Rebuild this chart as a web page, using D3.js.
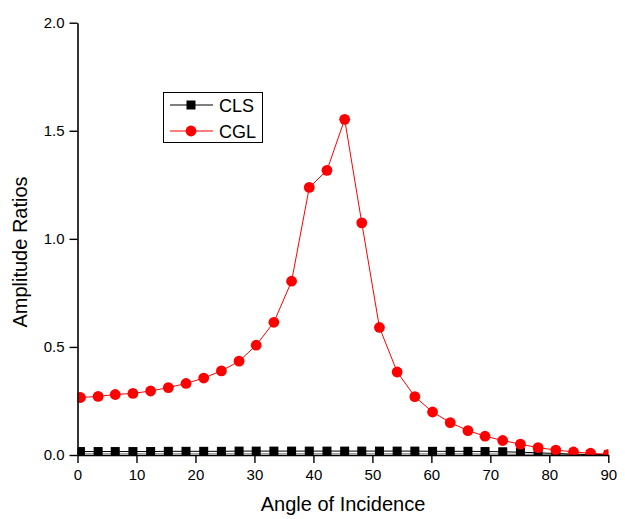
<!DOCTYPE html>
<html><head><meta charset="utf-8">
<script src="https://cdn.jsdelivr.net/npm/d3@7"></script>
<style>body{margin:0;background:#fff}svg{display:block}text{font-family:"Liberation Sans",Arial,sans-serif}</style>
</head><body><svg id="c" width="625" height="519"></svg>
<script>
const angles = [0.5,3.5,6.4,9.4,12.4,15.4,18.4,21.4,24.4,27.4,30.3,33.3,36.3,39.3,42.3,45.3,48.2,51.2,54.2,57.2,60.2,63.2,66.2,69.1,72.1,75.1,78.1,81.1,84.1,87.0,90.0];
const cgl = [0.266,0.271,0.280,0.285,0.296,0.312,0.331,0.356,0.389,0.434,0.508,0.614,0.804,1.238,1.317,1.553,1.074,0.590,0.384,0.270,0.199,0.150,0.113,0.087,0.067,0.050,0.034,0.023,0.014,0.008,0.003];
const cls = [0.016,0.016,0.016,0.016,0.016,0.017,0.017,0.017,0.017,0.018,0.018,0.018,0.018,0.018,0.018,0.018,0.018,0.018,0.018,0.018,0.017,0.017,0.017,0.016,0.015,0.013,0.010,0.007,0.004,0.002,0.001];
const base = [0.006,0.006,0.006,0.006,0.006,0.006,0.006,0.006,0.006,0.006,0.006,0.006,0.006,0.006,0.006,0.006,0.006,0.006,0.006,0.006,0.006,0.006,0.006,0.005,0.005,0.004,0.004,0.003,0.003,0.002,0.002];
const xTicks = [0,10,20,30,40,50,60,70,80,90];
const yTicks = [0,0.5,1.0,1.5,2.0];
const seriesNames = ["CLS","CGL"];

const svg = d3.select("#c");
const x = d3.scaleLinear().domain([0,90]).range([77.5,608.3]);
const y = d3.scaleLinear().domain([0,2]).range([455,22.7]);

svg.append("defs").append("clipPath").attr("id","clip")
  .append("rect").attr("x",x(0)).attr("y",y(2)-10).attr("width",x(90)-x(0)).attr("height",y(0)-y(2)+10);

const plot = svg.append("g").attr("clip-path","url(#clip)");
const line = d3.line().x((d,i)=>x(angles[i])).y(d=>y(d));

plot.append("path").datum(base).attr("d",line).attr("fill","none").attr("stroke","#888").attr("stroke-width",1);
plot.append("path").datum(cls).attr("d",line).attr("fill","none").attr("stroke","#000").attr("stroke-width",1);
plot.selectAll(".sq").data(cls).enter().append("rect")
  .attr("x",(d,i)=>x(angles[i])-4.5).attr("y",d=>y(d)-4.5).attr("width",9).attr("height",9).attr("fill","#000");
plot.append("path").datum(cgl).attr("d",line).attr("fill","none").attr("stroke","#ff0000").attr("stroke-width",1);
plot.selectAll(".ci").data(cgl).enter().append("circle")
  .attr("cx",(d,i)=>x(angles[i])).attr("cy",d=>y(d)).attr("r",5.4).attr("fill","#ff0000");

const xa = svg.append("g").attr("transform",`translate(0,${y(0)})`)
  .call(d3.axisBottom(x).tickValues(xTicks).tickSize(8).tickSizeOuter(0).tickFormat(d3.format("d")));
const ya = svg.append("g").attr("transform",`translate(${x(0)},0)`)
  .call(d3.axisLeft(y).tickValues(yTicks).tickSize(8).tickSizeOuter(0).tickFormat(d3.format(".1f")));
[xa,ya].forEach(a=>{
  a.select(".domain").attr("stroke","#000").attr("stroke-width",1.6);
  a.selectAll(".tick line").attr("stroke","#000").attr("stroke-width",1.4);
  a.selectAll(".tick text").attr("fill","#000").style("font-size","15px").style("font-family","'Liberation Sans',Arial,sans-serif");
});
xa.selectAll(".tick text").attr("dy","0.71em").attr("y",14);
ya.selectAll(".tick text").attr("x",-13);

svg.append("text").attr("x",343).attr("y",511).attr("text-anchor","middle").style("font-size","20px").text("Angle of Incidence");
svg.append("text").attr("transform","translate(27,252) rotate(-90)").attr("text-anchor","middle").style("font-size","20px").text("Amplitude Ratios");

const lg = svg.append("g");
lg.append("rect").attr("x",163.5).attr("y",92.5).attr("width",99).attr("height",50).attr("fill","#fff").attr("stroke","#000").attr("stroke-width",1);
const colors = ["#000","#ff0000"];
seriesNames.forEach((n,i)=>{
  const yy = 105 + i*26;
  lg.append("line").attr("x1",170).attr("x2",213).attr("y1",yy).attr("y2",yy).attr("stroke",colors[i]).attr("stroke-width",1);
  if(i===0) lg.append("rect").attr("x",191-4.5).attr("y",yy-4.5).attr("width",9).attr("height",9).attr("fill","#000");
  else lg.append("circle").attr("cx",191).attr("cy",yy).attr("r",5.4).attr("fill","#ff0000");
  lg.append("text").attr("x",219).attr("y",yy+6.5).style("font-size","18px").text(n);
});
</script></body></html>
